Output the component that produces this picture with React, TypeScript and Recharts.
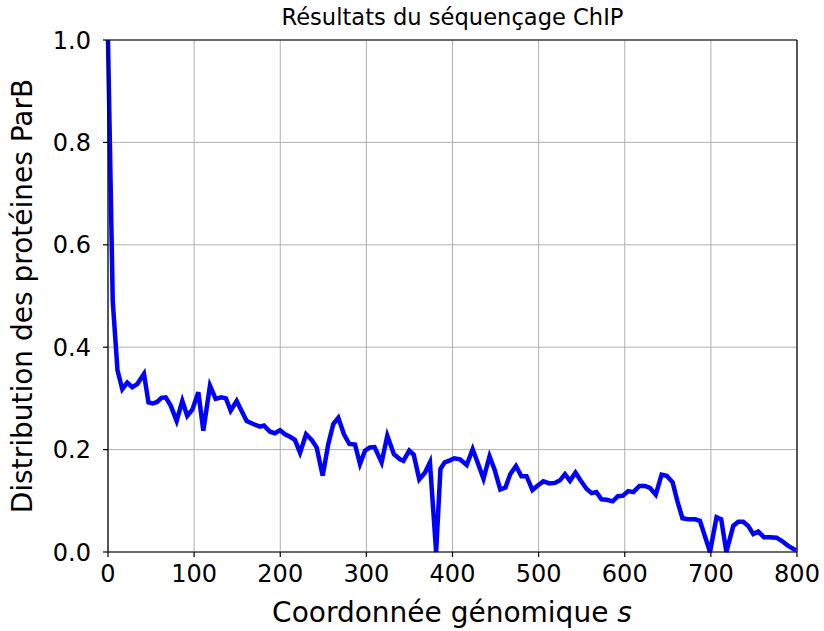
import React from 'react';
import {
  LineChart,
  Line,
  XAxis,
  YAxis,
  CartesianGrid,
  ReferenceLine,
  Label,
} from 'recharts';

// genomic coordinate s of each sample
const positions = [
  0, 5.5, 11, 16.6, 22.4, 28.2, 34, 41.8, 47, 52, 57, 62, 67, 72.8, 79.7, 86.3, 92, 97.9,
  104.9, 110.7, 118.4, 125, 131.6, 137, 142.4, 149.4, 155, 161, 168.7, 176.5, 181, 188,
  193.8, 199.7, 205.5, 211.3, 217, 223, 230, 236.5, 242.3, 249.3, 255.8, 261.6, 267.4, 274,
  280.2, 286.8, 292.6, 298.4, 304, 309.5, 317.7, 324.3, 332, 339, 343, 349.8, 355, 361.4,
  368, 373.8, 381, 386, 391, 397, 402, 408.7, 416.5, 423.4, 430, 436, 443, 449, 455.5,
  461.5, 467, 473.7, 480, 486, 492.8, 499, 505.5, 512.5, 519, 524.8, 530.6, 536.4, 542.8,
  549, 555.8, 561.5, 567, 573, 579, 586, 592, 598, 604, 610, 617, 623.5, 629.3, 636, 642.8,
  648.7, 655.6, 661, 667, 673.7, 681.5, 687.3, 699, 706.6, 712, 718, 726, 731.8, 737.6,
  743.4, 749.2, 755, 761.6, 768.6, 776.3, 782.1, 789.8, 799,
];

// ParB protein distribution at each position
const parB = [
  1.0, 0.49, 0.355, 0.318, 0.331, 0.322, 0.328, 0.348, 0.292, 0.29, 0.293, 0.301, 0.302,
  0.286, 0.256, 0.295, 0.266, 0.278, 0.312, 0.237, 0.325, 0.299, 0.302, 0.3, 0.276, 0.295,
  0.276, 0.256, 0.25, 0.245, 0.247, 0.235, 0.232, 0.238, 0.23, 0.225, 0.219, 0.194, 0.23,
  0.219, 0.204, 0.149, 0.211, 0.25, 0.262, 0.23, 0.211, 0.21, 0.172, 0.198, 0.204, 0.205,
  0.175, 0.227, 0.191, 0.181, 0.178, 0.198, 0.19, 0.142, 0.155, 0.175, 0.0, 0.162, 0.175,
  0.179, 0.183, 0.181, 0.17, 0.201, 0.171, 0.143, 0.187, 0.16, 0.122, 0.126, 0.152, 0.168,
  0.148, 0.148, 0.121, 0.13, 0.138, 0.134, 0.135, 0.14, 0.152, 0.139, 0.155, 0.139, 0.123,
  0.115, 0.117, 0.103, 0.102, 0.099, 0.109, 0.11, 0.119, 0.117, 0.129, 0.129, 0.125, 0.112,
  0.151, 0.149, 0.136, 0.1, 0.066, 0.064, 0.064, 0.061, 0.0, 0.068, 0.064, 0.0, 0.051, 0.059,
  0.059, 0.051, 0.035, 0.04, 0.029, 0.029, 0.028, 0.022, 0.012, 0.003,
];

const xTicks = [0, 100, 200, 300, 400, 500, 600, 700, 800];
const yTicks = [0, 0.2, 0.4, 0.6, 0.8, 1.0];

const data = positions.map((s, i) => ({ s, v: parB[i] }));

const FONT = '"DejaVu Sans", sans-serif';

export default function App() {
  return (
    <div style={{ position: 'absolute', left: 0, top: 0, width: 824, height: 631, background: '#fff' }}>
      <LineChart
        width={824}
        height={631}
        data={data}
        margin={{ top: 40, right: 27, bottom: 19, left: 8 }}
      >
        <CartesianGrid stroke="#b0b0b0" strokeWidth={1} />
        <XAxis
          dataKey="s"
          type="number"
          domain={[0, 800]}
          ticks={xTicks}
          height={60}
          tickSize={5}
          tickMargin={8}
          stroke="#000"
          tick={{ fill: '#000', fontSize: 24, fontFamily: FONT }}
          axisLine={{ stroke: '#000', strokeWidth: 1.2 }}
          tickLine={{ stroke: '#000', strokeWidth: 1.2 }}
        >
          <Label
            content={() => (
              <text x={452} y={622} textAnchor="middle" fontSize={28} fontFamily={FONT} fill="#000">
                Coordonnée génomique <tspan fontStyle="italic">s</tspan>
              </text>
            )}
          />
        </XAxis>
        <YAxis
          type="number"
          domain={[0, 1]}
          ticks={yTicks}
          width={100}
          tickSize={5}
          tickMargin={12}
          stroke="#000"
          tickFormatter={(v: number) => v.toFixed(1)}
          tick={{ fill: '#000', fontSize: 24, fontFamily: FONT }}
          axisLine={{ stroke: '#000', strokeWidth: 1.2 }}
          tickLine={{ stroke: '#000', strokeWidth: 1.2 }}
        >
          <Label
            content={() => (
              <text
                x={32}
                y={296}
                transform="rotate(-90 32 296)"
                textAnchor="middle"
                fontSize={28}
                fontFamily={FONT}
                fill="#000"
              >
                Distribution des protéines ParB
              </text>
            )}
          />
        </YAxis>
        <ReferenceLine y={1} stroke="#000" strokeWidth={1.2} />
        <ReferenceLine x={800} stroke="#000" strokeWidth={1.2} />
        <Line
          type="linear"
          dataKey="v"
          stroke="#0000ff"
          strokeWidth={4.5}
          dot={false}
          isAnimationActive={false}
        />
      </LineChart>
      <div
        style={{
          position: 'absolute',
          left: 0,
          width: 905,
          top: 4,
          textAlign: 'center',
          fontFamily: FONT,
          fontSize: 22.6,
          color: '#000',
          whiteSpace: 'nowrap',
        }}
      >
        Résultats du séquençage ChIP
      </div>
    </div>
  );
}
